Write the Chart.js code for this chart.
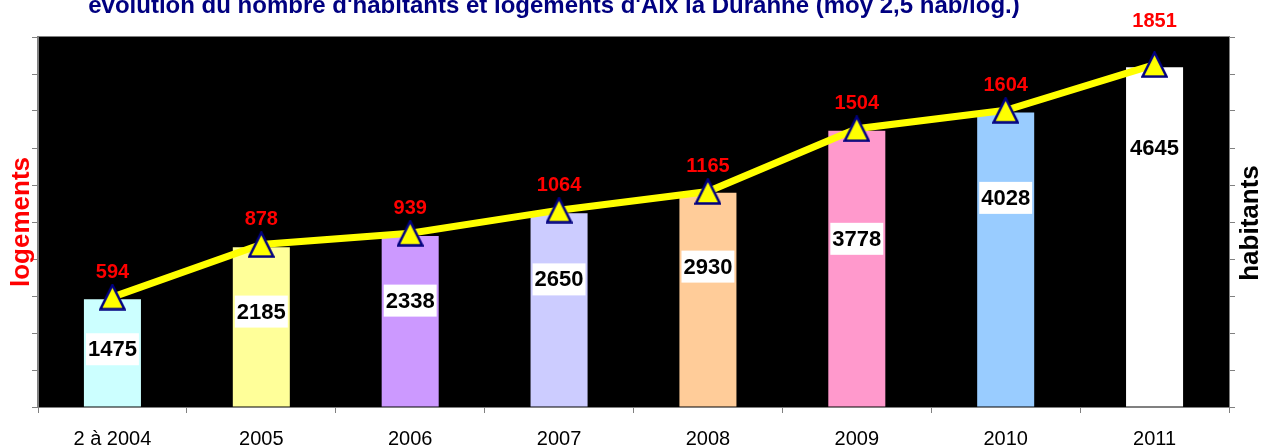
<!DOCTYPE html>
<html>
<head>
<meta charset="utf-8">
<script src="https://cdn.jsdelivr.net/npm/chart.js@4.4.1/dist/chart.umd.min.js"></script>
<style>
  html, body { margin: 0; padding: 0; background: #fff; }
  #wrap { width: 1261px; height: 448px; }
</style>
</head>
<body>
<div id="wrap"><canvas id="chart" width="1261" height="448"></canvas></div>
<script>
// data
const years = ['2 à 2004', '2005', '2006', '2007', '2008', '2009', '2010', '2011'];
const habitants = [1475, 2185, 2338, 2650, 2930, 3778, 4028, 4645];
const logements = [594, 878, 939, 1064, 1165, 1504, 1604, 1851];
// where the habitants label box sits inside each bar (habitants units)
const labelAt = [790, 1305, 1455, 1745, 1920, 2300, 2860, 3540];

const barColors = ['#CCFFFF', '#FFFF99', '#CC99FF', '#CCCCFF', '#FFCC99', '#FF99CC', '#99CCFF', '#FFFFFF'];
const FONT = "'Liberation Sans', Arial, sans-serif";

// triangle marker, yellow with navy outline
const marker = document.createElement('canvas');
marker.width = 27;
marker.height = 27;
(function () {
  const c = marker.getContext('2d');
  c.beginPath();
  c.moveTo(13.5, 1.5);
  c.lineTo(25.5, 25.5);
  c.lineTo(1.5, 25.5);
  c.closePath();
  c.fillStyle = '#FFFF00';
  c.fill();
  c.lineWidth = 2.5;
  c.strokeStyle = '#000080';
  c.stroke();
})();

const decor = {
  id: 'decor',
  beforeDraw(chart) {
    const { ctx, chartArea: a } = chart;
    ctx.save();
    ctx.fillStyle = '#fff';
    ctx.fillRect(0, 0, chart.width, chart.height);
    ctx.fillStyle = '#000';
    ctx.fillRect(a.left, a.top, a.right - a.left, a.bottom - a.top);
    ctx.strokeStyle = '#808080';
    ctx.lineWidth = 1;
    ctx.strokeRect(a.left - 0.5, a.top - 0.5, a.right - a.left + 1, a.bottom - a.top + 1);
    ctx.restore();
  },
  afterDatasetsDraw(chart) {
    const { ctx } = chart;
    const yH = chart.scales.yH;
    const bars = chart.getDatasetMeta(1).data;
    const pts = chart.getDatasetMeta(0).data;
    ctx.save();
    ctx.textAlign = 'center';
    ctx.textBaseline = 'middle';

    // habitants labels in white boxes
    ctx.font = 'bold 22px ' + FONT;
    habitants.forEach((v, i) => {
      const x = bars[i].x;
      const y = yH.getPixelForValue(labelAt[i]);
      const w = ctx.measureText(String(v)).width + 4;
      ctx.fillStyle = '#fff';
      ctx.fillRect(x - w / 2, y - 16, w, 32);
      ctx.fillStyle = '#000';
      ctx.fillText(String(v), x, y + 1);
    });

    // logements labels in red above the markers
    ctx.font = 'bold 20px ' + FONT;
    ctx.fillStyle = '#FF0000';
    logements.forEach((v, i) => {
      const p = pts[i];
      const off = i === logements.length - 1 ? 43 : 25;
      ctx.fillText(String(v), p.x, p.y - off);
    });
    ctx.restore();
  },
  afterDraw(chart) {
    const { ctx } = chart;
    ctx.save();
    ctx.textAlign = 'center';
    ctx.textBaseline = 'alphabetic';
    ctx.fillStyle = '#000080';
    ctx.font = 'bold 24px ' + FONT;
    ctx.fillText("évolution du nombre d'habitants et logements d'Aix la Duranne (moy 2,5 hab/log.)", 554, 13);

    ctx.textBaseline = 'middle';
    ctx.font = 'bold 26px ' + FONT;
    ctx.translate(22, 222);
    ctx.rotate(-Math.PI / 2);
    ctx.fillStyle = '#FF0000';
    ctx.fillText('logements', 0, 0);
    ctx.restore();

    ctx.save();
    ctx.textAlign = 'center';
    ctx.textBaseline = 'middle';
    ctx.font = 'bold 26px ' + FONT;
    ctx.translate(1251, 223);
    ctx.rotate(-Math.PI / 2);
    ctx.fillStyle = '#000';
    ctx.fillText('habitants', 0, 0);
    ctx.restore();
  }
};

const gridOpts = { drawOnChartArea: false, tickLength: 6, color: '#808080' };

new Chart(document.getElementById('chart'), {
  data: {
    labels: years,
    datasets: [
      {
        type: 'line',
        label: 'logements',
        data: logements,
        yAxisID: 'yL',
        borderColor: '#FFFF00',
        borderWidth: 7,
        pointStyle: marker,
        pointRadius: 13,
        tension: 0,
        order: 1
      },
      {
        type: 'bar',
        label: 'habitants',
        data: habitants,
        yAxisID: 'yH',
        backgroundColor: barColors,
        borderWidth: 0,
        categoryPercentage: 1,
        barPercentage: 0.383,
        order: 2
      }
    ]
  },
  options: {
    responsive: false,
    animation: false,
    devicePixelRatio: 1,
    layout: { padding: { top: 37, left: 0, right: 0, bottom: 0 } },
    plugins: {
      legend: { display: false },
      tooltip: { enabled: false }
    },
    scales: {
      x: {
        grid: gridOpts,
        border: { color: '#808080' },
        ticks: { color: '#000', font: { family: FONT, size: 20 }, padding: 14, maxRotation: 0 },
        afterFit: s => { s.height = 41; }
      },
      yL: {
        position: 'left',
        min: 0,
        max: 2000,
        ticks: { display: false, stepSize: 200 },
        grid: gridOpts,
        border: { color: '#808080' },
        afterFit: s => { s.width = 38; }
      },
      yH: {
        position: 'right',
        min: 0,
        max: 5060,
        ticks: { display: false, stepSize: 506 },
        grid: gridOpts,
        border: { color: '#808080' },
        afterFit: s => { s.width = 32; }
      }
    }
  },
  plugins: [decor]
});
</script>
</body>
</html>
